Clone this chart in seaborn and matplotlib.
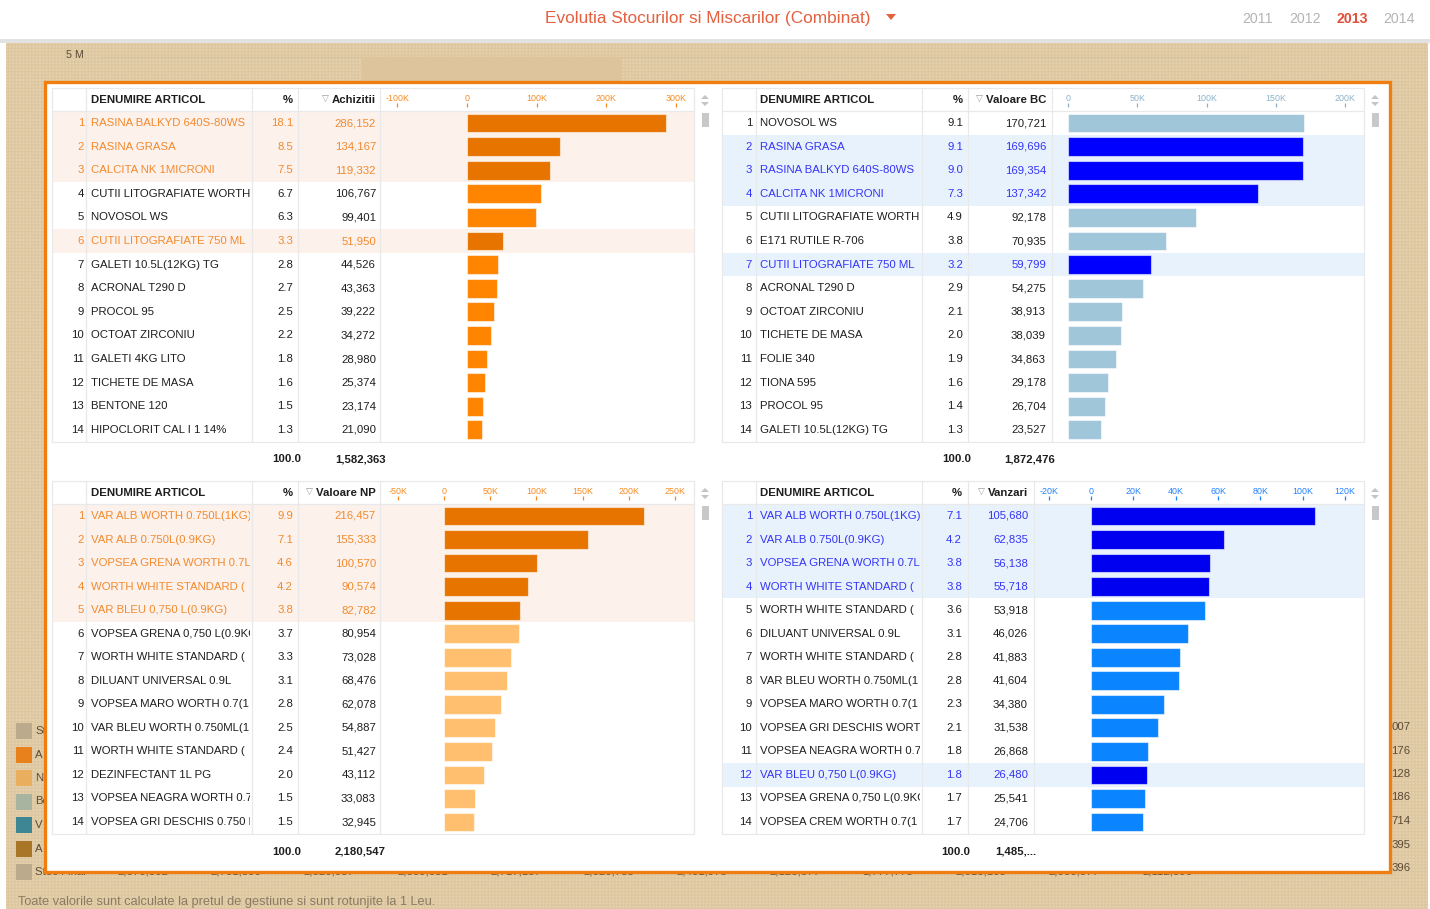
import numpy as np
import pandas as pd
import matplotlib
matplotlib.use("Agg")
import matplotlib.pyplot as plt
import matplotlib.font_manager as fm
from matplotlib.textpath import TextPath
import seaborn as sns
from matplotlib.patches import Rectangle, Polygon
from matplotlib.transforms import Bbox, TransformedBbox

# ---------------- DATA ----------------
title = "Evolutia Stocurilor si Miscarilor (Combinat)"
years = ["2011", "2012", "2013", "2014"]
active_year = "2013"

ach_names = ["RASINA BALKYD 640S-80WS", "RASINA GRASA", "CALCITA NK 1MICRONI",
             "CUTII LITOGRAFIATE WORTH", "NOVOSOL WS", "CUTII LITOGRAFIATE 750 ML",
             "GALETI 10.5L(12KG) TG", "ACRONAL T290 D", "PROCOL 95", "OCTOAT ZIRCONIU",
             "GALETI 4KG LITO", "TICHETE DE MASA", "BENTONE 120", "HIPOCLORIT CAL I 1 14%"]
ach_pct = [18.1, 8.5, 7.5, 6.7, 6.3, 3.3, 2.8, 2.7, 2.5, 2.2, 1.8, 1.6, 1.5, 1.3]
ach_vals = [286152, 134167, 119332, 106767, 99401, 51950, 44526, 43363, 39222,
            34272, 28980, 25374, 23174, 21090]
ach_hl = [0, 1, 2, 5]
ach_total = "1,582,363"
ach_ticks = [-100000, 0, 100000, 200000, 300000]
ach_ticklabels = ["-100K", "0", "100K", "200K", "300K"]

bc_names = ["NOVOSOL WS", "RASINA GRASA", "RASINA BALKYD 640S-80WS", "CALCITA NK 1MICRONI",
            "CUTII LITOGRAFIATE WORTH", "E171 RUTILE R-706", "CUTII LITOGRAFIATE 750 ML",
            "ACRONAL T290 D", "OCTOAT ZIRCONIU", "TICHETE DE MASA", "FOLIE 340",
            "TIONA 595", "PROCOL 95", "GALETI 10.5L(12KG) TG"]
bc_pct = [9.1, 9.1, 9.0, 7.3, 4.9, 3.8, 3.2, 2.9, 2.1, 2.0, 1.9, 1.6, 1.4, 1.3]
bc_vals = [170721, 169696, 169354, 137342, 92178, 70935, 59799, 54275, 38913,
           38039, 34863, 29178, 26704, 23527]
bc_hl = [1, 2, 3, 6]
bc_total = "1,872,476"
bc_ticks = [0, 50000, 100000, 150000, 200000]
bc_ticklabels = ["0", "50K", "100K", "150K", "200K"]

np_names = ["VAR ALB WORTH 0.750L(1KG)", "VAR ALB 0.750L(0.9KG)", "VOPSEA GRENA WORTH 0.7L",
            "WORTH WHITE STANDARD (", "VAR BLEU 0,750 L(0.9KG)", "VOPSEA GRENA 0,750 L(0.9KG)",
            "WORTH WHITE STANDARD (", "DILUANT UNIVERSAL 0.9L", "VOPSEA MARO WORTH 0.7(1",
            "VAR BLEU WORTH 0.750ML(1", "WORTH WHITE STANDARD (", "DEZINFECTANT 1L PG",
            "VOPSEA NEAGRA WORTH 0.7", "VOPSEA GRI DESCHIS 0.750 L"]
np_pct = [9.9, 7.1, 4.6, 4.2, 3.8, 3.7, 3.3, 3.1, 2.8, 2.5, 2.4, 2.0, 1.5, 1.5]
np_vals = [216457, 155333, 100570, 90574, 82782, 80954, 73028, 68476, 62078,
           54887, 51427, 43112, 33083, 32945]
np_hl = [0, 1, 2, 3, 4]
np_total = "2,180,547"
np_ticks = [-50000, 0, 50000, 100000, 150000, 200000, 250000]
np_ticklabels = ["-50K", "0", "50K", "100K", "150K", "200K", "250K"]

vz_names = ["VAR ALB WORTH 0.750L(1KG)", "VAR ALB 0.750L(0.9KG)", "VOPSEA GRENA WORTH 0.7L",
            "WORTH WHITE STANDARD (", "WORTH WHITE STANDARD (", "DILUANT UNIVERSAL 0.9L",
            "WORTH WHITE STANDARD (", "VAR BLEU WORTH 0.750ML(1", "VOPSEA MARO WORTH 0.7(1",
            "VOPSEA GRI DESCHIS WORTH", "VOPSEA NEAGRA WORTH 0.7", "VAR BLEU 0,750 L(0.9KG)",
            "VOPSEA GRENA 0,750 L(0.9KG)", "VOPSEA CREM WORTH 0.7(1"]
vz_pct = [7.1, 4.2, 3.8, 3.8, 3.6, 3.1, 2.8, 2.8, 2.3, 2.1, 1.8, 1.8, 1.7, 1.7]
vz_vals = [105680, 62835, 56138, 55718, 53918, 46026, 41883, 41604, 34380,
           31538, 26868, 26480, 25541, 24706]
vz_hl = [0, 1, 2, 3, 11]
vz_total = "1,485,..."
vz_ticks = [-20000, 0, 20000, 40000, 60000, 80000, 100000, 120000]
vz_ticklabels = ["-20K", "0", "20K", "40K", "60K", "80K", "100K", "120K"]

legend_labels = ["St", "A", "N", "Be", "V", "A", "Stoc Final"]
legend_colors = ["#bcaa8c", "#e8801c", "#e9ae5e", "#a8b4a0", "#3e8694", "#a87626", "#bcaa8c"]
right_suffixes = ["007", "176", "128", "186", "714", "395", "396"]
bottom_numbers = ["2,370,302", "2,701,390", "2,820,037", "2,309,051", "2,717,187", "2,320,735",
                  "2,401,975", "2,123,377", "1,777,775", "2,013,105", "2,000,077", "2,112,396"]
footer = "Toate valorile sunt calculate la pretul de gestiune si sunt rotunjite la 1 Leu."

# ---------------- FONTS ----------------
W, H = 1430, 909
sns.set_theme(style="white")
FAMILY = ["Liberation Sans", "DejaVu Sans"]
plt.rcParams["font.family"] = FAMILY

SAMPLE = "RASINA BALKYD 640S-80WS"

fig = plt.figure(figsize=(W / 100, H / 100), dpi=100)
renderer = fig.canvas.get_renderer()


def fp(bold=False, size=9.0):
    return fm.FontProperties(family=FAMILY, weight="bold" if bold else "normal", size=size)


def fit(s, target_px, bold=False):
    prop = fm.FontProperties(family=FAMILY[0], weight="bold" if bold else "normal", size=10)
    w = TextPath((0, 0), s, size=10, prop=prop).get_extents().width * 100 / 72
    return 10 * target_px / w


FS = fit(SAMPLE, 153)
FS_TITLE = fit(title, 322)
FS_FOOT = fit(footer, 416)
FS_TICK = fit("100K", 20)
FS_YEAR = fit("2011", 29)

bg = fig.add_axes([0, 0, 1, 1])
bg.set_xlim(0, W)
bg.set_ylim(H, 0)
bg.axis("off")


def rect(x0, y0, x1, y1, **kw):
    p = Rectangle((x0, y0), x1 - x0, y1 - y0, **kw)
    bg.add_patch(p)
    return p


def txt(x, y, s, bold=False, size=None, **kw):
    kw.setdefault("va", "center")
    kw.setdefault("color", "#1e1e1e")
    return bg.text(x, y, s, fontproperties=fp(bold, size or FS), **kw)


# page background
rect(0, 0, W, H, fc="white", lw=0, zorder=0)
rect(0, 39, W, 43, fc="#e2e2e2", lw=0, zorder=0.5)
rect(6, 43, 1428, H, fc="#e6d2ae", lw=0, zorder=0.6)
rect(6, 43, 1428, H, fc="none", ec=(0.55, 0.42, 0.22, 0.10), hatch="+++++", lw=0, zorder=0.7)

# header
txt(708, 18, title, size=FS_TITLE, ha="center", color="#e5603e", zorder=3)
bg.add_patch(Polygon([[886, 14], [896, 14], [891, 20]], closed=True, fc="#e5603e", lw=0, zorder=3))
for i, yr in enumerate(years):
    act = yr == active_year
    txt(1258 + 47 * i, 19, yr, bold=act, size=FS_YEAR, ha="center",
        color="#e0503a" if act else "#b4b4b4", zorder=3)

# background chart remnants
txt(66, 55, "5 M", size=FS * 0.95, color="#5b4a35", zorder=1)
bg.plot([100, 1250], [57, 57], color="#d9c5a0", lw=0.8, zorder=1)
rect(362, 57, 622, 82, fc="#ddc49c", lw=0, zorder=1)
for i, (lab, c) in enumerate(zip(legend_labels, legend_colors)):
    yc = 731 + 23.5 * i
    rect(16, yc - 8, 32, yc + 8, fc=c, lw=0, zorder=1)
    txt(35, yc, lab, color="#5b4a35", zorder=1)
for i, s in enumerate(right_suffixes):
    txt(1391.5, 727 + 23.5 * i, s, color="#5b4a35", zorder=1)
for i, s in enumerate(bottom_numbers):
    txt(143 + 93.1 * i, 871, s, ha="center", color="#5b4a35", zorder=1)
txt(18, 902, footer, size=FS_FOOT, color="#8a7a62", zorder=1)

# orange framed white box
rect(45, 82, 1390, 872, fc="white", ec="#f07d10", lw=2.4, zorder=2)

panels = [
    dict(names=ach_names, pct=ach_pct, vals=ach_vals, hl=ach_hl, total=ach_total,
         ticks=ach_ticks, ticklabels=ach_ticklabels, label="Achizitii",
         x0=52, x1=694, htop=88, r0=123.0, step=23.6, seps=[86, 252, 298, 380],
         rank_r=84, name_l=91, pct_r=293, val_r=376, chart=(380, 694),
         xlim=(-125000, 326000), tot=(301, 386), toty=459,
         hlbg="#fdf1ec", hltxt="#f28a2e", hlbar="#e87400", bar="#ff8400",
         tickc="#f58a20", scroll=705),
    dict(names=bc_names, pct=bc_pct, vals=bc_vals, hl=bc_hl, total=bc_total,
         ticks=bc_ticks, ticklabels=bc_ticklabels, label="Valoare BC",
         x0=722, x1=1364, htop=88, r0=123.0, step=23.6, seps=[756, 922, 968, 1052],
         rank_r=752, name_l=760, pct_r=963, val_r=1046, chart=(1052, 1364),
         xlim=(-11550, 213700), tot=(971, 1055), toty=459,
         hlbg="#e8f2fd", hltxt="#3434f5", hlbar="#0000ff", bar="#a0c6da",
         tickc="#8cb2c8", scroll=1375),
    dict(names=np_names, pct=np_pct, vals=np_vals, hl=np_hl, total=np_total,
         ticks=np_ticks, ticklabels=np_ticklabels, label="Valoare NP",
         x0=52, x1=694, htop=481, r0=516.0, step=23.54, seps=[86, 252, 298, 380],
         rank_r=84, name_l=91, pct_r=293, val_r=376, chart=(380, 694),
         xlim=(-69260, 270560), tot=(301, 386), toty=852,
         hlbg="#fdf1ec", hltxt="#f28a2e", hlbar="#e87400", bar="#ffbf6e",
         tickc="#f58a20", scroll=705),
    dict(names=vz_names, pct=vz_pct, vals=vz_vals, hl=vz_hl, total=vz_total,
         ticks=vz_ticks, ticklabels=vz_ticklabels, label="Vanzari",
         x0=722, x1=1364, htop=481, r0=516.0, step=23.54, seps=[756, 922, 968, 1034],
         rank_r=752, name_l=760, pct_r=962, val_r=1028, chart=(1034, 1364),
         xlim=(-26930, 128980), tot=(970, 1036), toty=852,
         hlbg="#e8f2fd", hltxt="#3434f5", hlbar="#0000f0", bar="#0a84ff",
         tickc="#1e80ff", scroll=1375),
]

for P in panels:
    n = len(P["vals"])
    step = P["step"]
    rtop = P["r0"] - step / 2
    rbot = P["r0"] + step * (n - 1) + step / 2
    # highlighted row backgrounds
    for i in P["hl"]:
        yc = P["r0"] + step * i
        rect(P["x0"], yc - step / 2, P["x1"], yc + step / 2, fc=P["hlbg"], lw=0, zorder=2.1)
    # grid lines
    gl = dict(color="#e9e9e9", lw=0.9, zorder=2.2)
    for sx in [P["x0"]] + P["seps"] + [P["x1"]]:
        bg.plot([sx, sx], [P["htop"], rbot], **gl)
    for sy in [P["htop"], rtop, rbot]:
        bg.plot([P["x0"], P["x1"]], [sy, sy], **gl)
    # header
    hy = (P["htop"] + rtop) / 2
    txt(P["name_l"], hy, "DENUMIRE ARTICOL", bold=True, zorder=3)
    txt(P["pct_r"], hy, "%", bold=True, ha="right", zorder=3)
    lab = txt(P["val_r"], hy, P["label"], bold=True, ha="right", zorder=3)
    ext = lab.get_window_extent(renderer)
    x_left = bg.transData.inverted().transform((ext.x0, 0))[0]
    bg.text(x_left - 3, hy, "\u25BD", ha="right", va="center", fontsize=6.5, color="#9a9a9a",
            family="DejaVu Sans", zorder=3)
    # clip box for names
    clip = TransformedBbox(Bbox([[P["name_l"] - 1, P["htop"]], [P["seps"][1] - 2, rbot]]),
                           bg.transData)
    for i in range(n):
        yc = P["r0"] + step * i
        c = P["hltxt"] if i in P["hl"] else "#1e1e1e"
        txt(P["rank_r"], yc, str(i + 1), ha="right", color=c, zorder=3)
        t = txt(P["name_l"], yc, P["names"][i], color=c, zorder=3)
        t.set_clip_box(clip)
        t.set_clip_on(True)
        txt(P["pct_r"], yc, f"{P['pct'][i]:.1f}", ha="right", color=c, zorder=3)
        txt(P["val_r"], yc, f"{P['vals'][i]:,}", ha="right", color=c, zorder=3)
    # totals
    txt(P["tot"][0], P["toty"], "100.0", bold=True, ha="right", zorder=3)
    txt(P["tot"][1], P["toty"], P["total"], bold=True, ha="right", zorder=3)
    # scroll widget
    sx = P["scroll"]
    oy = P["htop"] - 88
    bg.add_patch(Polygon([[sx - 4, 99 + oy], [sx + 4, 99 + oy], [sx, 95 + oy]], fc="#c4c4c4", lw=0, zorder=3))
    bg.add_patch(Polygon([[sx - 4, 102 + oy], [sx + 4, 102 + oy], [sx, 106 + oy]], fc="#c4c4c4", lw=0, zorder=3))
    rect(sx - 3.5, 113 + oy, sx + 3.5, 127 + oy, fc="#c8c8c8", lw=0, zorder=3)

    # bar chart via seaborn
    cx0, cx1 = P["chart"]
    atop = P["htop"] + 19  # tick mark baseline inside the header row
    ax = fig.add_axes([cx0 / W, 1 - rbot / H, (cx1 - cx0) / W, (rbot - atop) / H])
    ax.set_zorder(5)
    ax.patch.set_alpha(0)
    df = pd.DataFrame({"rank": [str(i + 1) for i in range(n)], "val": P["vals"]})
    colors = [P["hlbar"] if i in P["hl"] else P["bar"] for i in range(n)]
    sns.barplot(data=df, x="val", y="rank", hue="rank", palette=colors, legend=False,
                saturation=1, width=0.8, orient="h", ax=ax,
                edgecolor=(1, 1, 1, 0.55), linewidth=0.8)
    extra = (rtop - atop) / step
    ax.set_ylim(n - 0.5, -0.5 - extra)
    ax.set_xlim(*P["xlim"])
    for s in ax.spines.values():
        s.set_visible(False)
    ax.set_yticks([])
    ax.set_xlabel("")
    ax.set_ylabel("")
    ax.xaxis.tick_top()
    ax.set_xticks(P["ticks"])
    ax.set_xticklabels(P["ticklabels"])
    ax.tick_params(axis="x", colors=P["tickc"], length=3, width=0.9,
                   direction="out", pad=0, top=True, bottom=False)
    for tl in ax.get_xticklabels():
        tl.set_fontproperties(fp(False, FS_TICK))
    ax.grid(False)

fig.savefig("out.png", dpi=100)
